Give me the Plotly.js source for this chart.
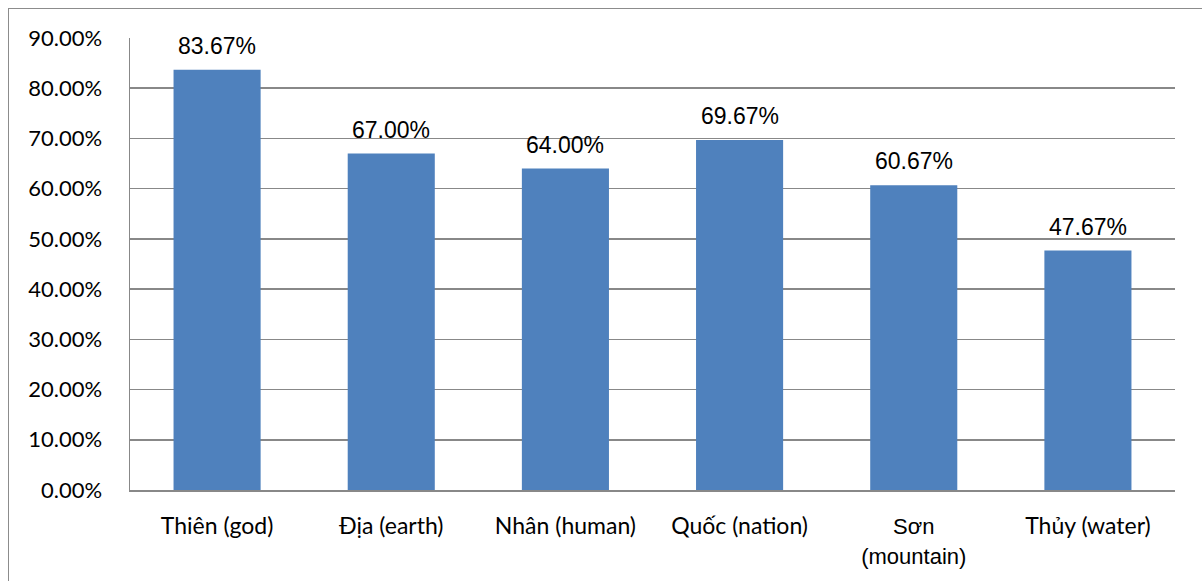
<!DOCTYPE html>
<html>
<head>
<meta charset="utf-8">
<script src="https://cdn.plot.ly/plotly-3.0.1.min.js"></script>
<style>
html,body{margin:0;padding:0;background:#fff;}
#wrap{position:absolute;left:0;top:0;width:1202px;height:581px;overflow:hidden;}
#frame{position:absolute;left:8px;top:8px;width:1300px;height:700px;border-left:1.5px solid #8c8c8c;border-top:1.5px solid #8c8c8c;pointer-events:none;}
#chart{position:absolute;left:0;top:0;width:1202px;height:581px;}
</style>
</head>
<body>
<div id="wrap">
<div id="chart"></div>
<div id="frame"></div>
</div>
<script>
const categories = ["Thiên (god)", "Địa (earth)", "Nhân (human)", "Quốc (nation)", "Sơn (mountain)", "Thủy (water)"];
const tickLabels = ["Thiên (god)", "Địa (earth)", "Nhân (human)", "Quốc (nation)",
  "<span style=\"font-family:'Liberation Sans', Arial;font-size:22px\">Sơn<br>(mountain)</span>", "Thủy (water)"];
const values = [83.67, 67.00, 64.00, 69.67, 60.67, 47.67];
const yTicks = [0, 10, 20, 30, 40, 50, 60, 70, 80, 90];

const trace = {
  type: 'bar',
  x: categories,
  y: values,
  marker: {color: '#4F81BD'},
  hoverinfo: 'none'
};

const annotations = categories.map((c, i) => ({
  x: c, y: values[i], xref: 'x', yref: 'y',
  text: values[i].toFixed(2) + '%',
  showarrow: false, yanchor: 'bottom', yshift: 9,
  font: {family: "'Liberation Sans', Arial, sans-serif", size: 23, color: '#000'}
}));

const layout = {
  width: 1202, height: 581,
  margin: {l: 130, r: 27, t: 38, b: 91},
  paper_bgcolor: 'rgba(0,0,0,0)',
  plot_bgcolor: '#fff',
  bargap: 0.5,
  showlegend: false,
  font: {family: "Lato, 'Noto Sans', sans-serif", size: 22, color: '#000'},
  xaxis: {
    type: 'category',
    tickmode: 'array', tickvals: categories, ticktext: tickLabels,
    showline: true, linecolor: '#888', linewidth: 1.5,
    ticks: '', ticklabelstandoff: 15,
    showgrid: false, zeroline: false,
    tickfont: {family: "Lato, 'Noto Sans', sans-serif", size: 23, color: '#000'}
  },
  yaxis: {
    range: [0, 90],
    tickmode: 'array', tickvals: yTicks,
    ticktext: yTicks.map(v => v.toFixed(2) + '%'),
    showline: true, linecolor: '#888', linewidth: 1.5,
    showgrid: true, gridcolor: '#888', gridwidth: 1.5,
    zeroline: false, ticks: '', ticklabelstandoff: 22,
    tickfont: {family: "Lato, 'Noto Sans', sans-serif", size: 22, color: '#000'}
  },
  annotations: annotations
};

Plotly.newPlot('chart', [trace], layout, {displayModeBar: false, staticPlot: true});
</script>
</body>
</html>
